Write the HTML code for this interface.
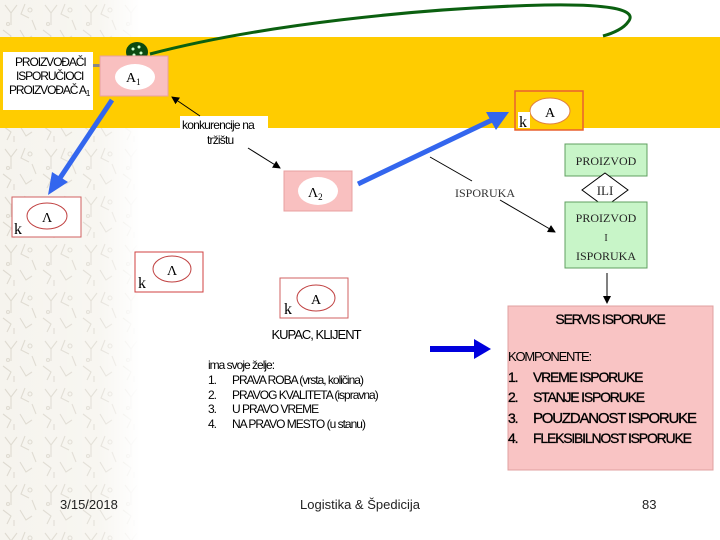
<!DOCTYPE html>
<html><head><meta charset="utf-8"><style>
html,body{margin:0;padding:0;background:#fff;}
svg{display:block;}
text{font-family:"Liberation Sans",sans-serif;}
.s{font-family:"Liberation Serif",serif;}
</style></head><body>
<svg width="720" height="540" viewBox="0 0 720 540" xmlns="http://www.w3.org/2000/svg">
<defs>
<pattern id="pt" width="40" height="48" patternUnits="userSpaceOnUse">
<g stroke="#dedad0" stroke-width="1.1" fill="none">
<path d="M5 5 l6 8 l6 -8 M11 13 v12 M25 4 l-4 10 l8 4 M32 20 l4 10 M3 30 l8 6 l-4 8 M20 30 l6 10 l6 -4 M14 40 v6"/>
<circle cx="30" cy="10" r="2"/><circle cx="8" cy="24" r="1.5"/>
</g>
</pattern>
<linearGradient id="fade" x1="0" x2="1" y1="0" y2="0">
<stop offset="0" stop-color="#fff" stop-opacity="0"/>
<stop offset="0.7" stop-color="#fff" stop-opacity="0.2"/>
<stop offset="1" stop-color="#fff" stop-opacity="1"/>
</linearGradient>
<marker id="ab" markerWidth="8" markerHeight="8" refX="7" refY="4" orient="auto" markerUnits="userSpaceOnUse"><path d="M0,0 L8,4 L0,8 z" fill="#000"/></marker>
</defs>
<rect x="0" y="0" width="140" height="540" fill="#f6f4ee"/>
<rect x="0" y="0" width="140" height="540" fill="url(#pt)"/>
<rect x="0" y="0" width="140" height="540" fill="url(#fade)"/>
<rect x="0" y="37" width="720" height="91" fill="#ffcc00"/>

<path d="M150,54 C260,25 420,8 545,5 C600,4 640,8 628,22 C624,28 614,33 603,36" fill="none" stroke="#0b6010" stroke-width="3"/>
<ellipse cx="137" cy="52" rx="11" ry="10" fill="#0b4a10"/>
<circle cx="133" cy="49" r="1.5" fill="#cfc"/><circle cx="139" cy="47" r="1.5" fill="#cfc"/><circle cx="141" cy="53" r="1.5" fill="#cfc"/><circle cx="134" cy="55" r="1.5" fill="#cfc"/>

<rect x="3" y="52" width="90" height="58" fill="#fff"/>
<rect x="93" y="64" width="7" height="3" fill="#888"/>
<g font-size="12" letter-spacing="-1.1" fill="#000">
<text x="15" y="66">PROIZVOĐAČI</text>
<text x="16" y="80">ISPORUČIOCI</text>
<text x="9" y="94">PROIZVOĐAČ A<tspan font-size="8" dy="2">1</tspan></text>
</g>

<rect x="100" y="56" width="68" height="40" fill="#f9c0c0" stroke="#e8a0a0"/>
<ellipse cx="135" cy="77" rx="20" ry="13" fill="#fff"/>
<text class="s" x="126" y="82" font-size="14">A<tspan font-size="9" dy="3">1</tspan></text>

<g stroke="#3366ee" stroke-width="5" fill="#3366ee">
<line x1="112" y1="100" x2="60" y2="178"/>
<line x1="358" y1="184" x2="492" y2="120"/>
</g>
<path d="M48,195 L52,172 L68,182 z" fill="#3366ee"/>
<path d="M509,112 L486,112 L496,130 z" fill="#3366ee"/>

<g fill="none">
<rect x="12" y="197" width="69" height="40" fill="#fff" stroke="#d06060"/>
<ellipse cx="47" cy="216" rx="20" ry="13" fill="#fff" stroke="#c04040"/>
<rect x="135" y="252" width="68" height="40" fill="#fff" stroke="#d04040"/>
<ellipse cx="172" cy="269" rx="19" ry="13" fill="#fff" stroke="#c04040"/>
<rect x="280" y="278" width="68" height="40" fill="#fff" stroke="#d06060"/>
<ellipse cx="316" cy="298" rx="19" ry="13" fill="#fff" stroke="#c04040"/>
<rect x="515" y="91" width="68" height="39" fill="#ffcc00" stroke="#e86030" stroke-width="1.5"/>
<ellipse cx="550" cy="111" rx="20" ry="13" fill="#fff" stroke="#e08040"/>
</g>
<rect x="518" y="112" width="12" height="16" fill="#fff"/>
<g class="s" font-size="14" fill="#000">
<text class="s" x="42" y="222">Λ</text><text class="s" x="14" y="234" font-size="16">k</text>
<text class="s" x="167" y="275">Λ</text><text class="s" x="138" y="288" font-size="16">k</text>
<text class="s" x="311" y="304">A</text><text class="s" x="284" y="314" font-size="16">k</text>
<text class="s" x="545" y="117">A</text><text class="s" x="519" y="127" font-size="16">k</text>
</g>

<rect x="180" y="116" width="88" height="16" fill="#fff"/>
<g font-size="12" letter-spacing="-0.8">
<text x="182" y="129">konkurencije na</text>
<text x="207" y="144">tržištu</text>
</g>
<line x1="200" y1="116" x2="172" y2="97" stroke="#000" marker-end="url(#ab)"/>
<line x1="248" y1="148" x2="280" y2="168" stroke="#000" marker-end="url(#ab)"/>

<rect x="284" y="171" width="68" height="40" fill="#f9c0c0" stroke="#e8a0a0"/>
<ellipse cx="318" cy="191" rx="20" ry="14" fill="#fff"/>
<text class="s" x="308" y="197" font-size="14">Λ<tspan font-size="9" dy="3">2</tspan></text>

<text class="s" x="455" y="197" font-size="12" fill="#333">ISPORUKA</text>
<line x1="430" y1="157" x2="472" y2="181" stroke="#000"/>
<line x1="500" y1="200" x2="555" y2="232" stroke="#000" marker-end="url(#ab)"/>

<rect x="565" y="144" width="82" height="32" fill="#c8f5c8" stroke="#60a060"/>
<text class="s" x="606" y="165" font-size="12" text-anchor="middle" fill="#222">PROIZVOD</text>
<path d="M605,173 L628,190 L605,207 L582,190 z" fill="#fff" stroke="#000"/>
<text class="s" x="605" y="195" font-size="13" text-anchor="middle" fill="#222">ILI</text>
<rect x="565" y="202" width="82" height="66" fill="#c8f5c8" stroke="#60a060"/>
<text class="s" x="606" y="222" font-size="12" text-anchor="middle" fill="#222">PROIZVOD</text>
<text class="s" x="606" y="241" font-size="10" text-anchor="middle" fill="#222">I</text>
<text class="s" x="606" y="260" font-size="12" text-anchor="middle" fill="#222">ISPORUKA</text>
<line x1="607" y1="273" x2="607" y2="303" stroke="#000" marker-end="url(#ab)"/>

<text x="316" y="339" font-size="13" text-anchor="middle" letter-spacing="-1">KUPAC, KLIJENT</text>
<g font-size="12" letter-spacing="-1">
<text x="208" y="369">ima svoje želje:</text>
<text x="208" y="384">1.</text><text x="232" y="384">PRAVA ROBA (vrsta, količina)</text>
<text x="208" y="399">2.</text><text x="232" y="399">PRAVOG KVALITETA (ispravna)</text>
<text x="208" y="413">3.</text><text x="232" y="413">U PRAVO VREME</text>
<text x="208" y="428">4.</text><text x="232" y="428">NA PRAVO MESTO (u stanu)</text>
</g>
<rect x="430" y="346" width="45" height="6" fill="#0000dd"/>
<path d="M474,339 L491,349 L474,359 z" fill="#0000dd"/>

<rect x="508" y="306" width="205" height="164" fill="#f9c4c4" stroke="#e0a0a0"/>
<g font-size="14" letter-spacing="-1.2" stroke="#000" stroke-width="0.3">
<text x="610" y="324" text-anchor="middle">SERVIS ISPORUKE</text>
<text x="508" y="361" font-size="13" stroke-width="0">KOMPONENTE:</text>
<text x="508" y="382">1.</text><text x="533" y="382">VREME ISPORUKE</text>
<text x="508" y="402">2.</text><text x="533" y="402">STANJE ISPORUKE</text>
<text x="508" y="423">3.</text><text x="533" y="423" font-size="15">POUZDANOST ISPORUKE</text>
<text x="508" y="443">4.</text><text x="533" y="443">FLEKSIBILNOST ISPORUKE</text>
</g>

<g font-size="13" fill="#222">
<text x="60" y="509">3/15/2018</text>
<text x="360" y="509" text-anchor="middle">Logistika &amp; Špedicija</text>
<text x="642" y="509">83</text>
</g>
</svg>
</body></html>
